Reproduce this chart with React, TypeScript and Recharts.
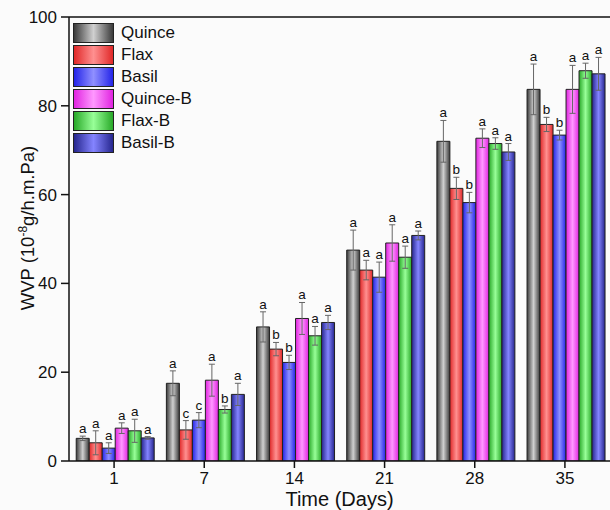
import React from 'react';
import { BarChart, Bar, XAxis, YAxis, ErrorBar, LabelList, Legend, ReferenceLine, Label } from 'recharts';

const days = ['1', '7', '14', '21', '28', '35'];
const yTicks = [0, 20, 40, 60, 80, 100];

const quince = [5.1, 17.5, 30.2, 47.5, 72.0, 83.7];
const quinceErr = [0.5, 2.8, 3.4, 4.5, 4.7, 5.7];
const quinceSig = ['a', 'a', 'a', 'a', 'a', 'a'];

const flax = [4.1, 7.0, 25.2, 43.0, 61.4, 75.8];
const flaxErr = [2.7, 2.1, 1.5, 2.2, 2.5, 1.6];
const flaxSig = ['a', 'c', 'b', 'a', 'b', 'b'];

const basil = [2.9, 9.2, 22.2, 41.4, 58.2, 73.4];
const basilErr = [1.2, 1.7, 1.6, 3.4, 2.3, 1.1];
const basilSig = ['a', 'c', 'b', 'a', 'b', 'b'];

const quinceB = [7.4, 18.2, 32.1, 49.1, 72.7, 83.7];
const quinceBErr = [1.2, 3.6, 3.6, 4.1, 2.1, 5.4];
const quinceBSig = ['a', 'a', 'a', 'a', 'a', 'a'];

const flaxB = [6.8, 11.6, 28.2, 45.9, 71.5, 87.9];
const flaxBErr = [2.6, 0.8, 2.1, 2.5, 1.3, 1.7];
const flaxBSig = ['a', 'b', 'a', 'a', 'a', 'a'];

const basilB = [5.2, 15.0, 31.2, 50.8, 69.6, 87.2];
const basilBErr = [0.3, 2.5, 1.6, 1.0, 1.9, 3.7];
const basilBSig = ['a', 'a', 'a', 'a', 'a', 'a'];

const series = [
  { key: 'Quince', values: quince, errs: quinceErr, sig: quinceSig, edge: '#3a3a3a', mid: '#d0d0d0' },
  { key: 'Flax', values: flax, errs: flaxErr, sig: flaxSig, edge: '#e02828', mid: '#ff9090' },
  { key: 'Basil', values: basil, errs: basilErr, sig: basilSig, edge: '#2424e8', mid: '#9090ff' },
  { key: 'Quince-B', values: quinceB, errs: quinceBErr, sig: quinceBSig, edge: '#e024e0', mid: '#ff98ff' },
  { key: 'Flax-B', values: flaxB, errs: flaxBErr, sig: flaxBSig, edge: '#28a828', mid: '#98ff98' },
  { key: 'Basil-B', values: basilB, errs: basilBErr, sig: basilBSig, edge: '#26268e', mid: '#8484ff' },
];

const data = days.map((d, i) => {
  const row: any = { day: d };
  series.forEach((s) => {
    row[s.key] = s.values[i];
    row[s.key + '_err'] = s.errs[i];
    row[s.key + '_sig'] = s.sig[i];
  });
  return row;
});

const FONT = '"Liberation Sans", Arial, sans-serif';

const gid = (k: string) => 'grad_' + k.replace(/[^a-zA-Z]/g, '');

const makeSigLabel = (s: any) => (p: any) => {
  const idx = p.index;
  const v = s.values[idx];
  const x = p.x ?? p.viewBox?.x;
  const y = p.y ?? p.viewBox?.y;
  const w = p.width ?? p.viewBox?.width;
  const h = p.height ?? p.viewBox?.height;
  if (x == null || y == null || !v) return null;
  const k = h / v;
  const top = y - s.errs[idx] * k;
  return (
    <text x={x + w / 2} y={top - 3} textAnchor="middle" fontSize={13.5} fontFamily={FONT} fill="#111">
      {s.sig[idx]}
    </text>
  );
};

const renderLegend = () => (
  <div style={{ fontFamily: FONT, fontSize: 17, color: '#111' }}>
    {series.map((s) => (
      <div key={s.key} style={{ display: 'flex', alignItems: 'center', height: 22 }}>
        <div
          style={{
            width: 39,
            height: 18,
            border: '1px solid #222',
            background: `linear-gradient(to right, ${s.edge}, ${s.mid}, ${s.edge})`,
            marginRight: 7,
          }}
        />
        <span>{s.key}</span>
      </div>
    ))}
  </div>
);

const yLabel = () => {
  const cx = 34;
  const cy = 228;
  return (
    <text
      x={cx}
      y={cy}
      transform={`rotate(-90, ${cx}, ${cy})`}
      textAnchor="middle"
      fontSize={18.5}
      fontFamily={FONT}
      fill="#111"
    >
      WVP (10<tspan dy={-7} fontSize={12}>-8</tspan>
      <tspan dy={7}>g/h.m.Pa)</tspan>
    </text>
  );
};

const xLabel = (props: any) => {
  const vb = props.viewBox || {};
  const cx = (vb.x ?? 69) + (vb.width ?? 541) / 2;
  return (
    <text x={cx} y={506} textAnchor="middle" fontSize={20} fontFamily={FONT} fill="#111">
      Time (Days)
    </text>
  );
};

export default function App() {
  return (
    <div style={{ position: 'absolute', left: 0, top: 0, width: 610, height: 510, background: '#fbfbfb' }}>
      <BarChart
        width={610}
        height={510}
        data={data}
        margin={{ top: 17, right: 0, bottom: 19, left: 0 }}
        barCategoryGap="8%"
        barGap={0}
      >
        <defs>
          {series.map((s) => (
            <linearGradient key={s.key} id={gid(s.key)} x1="0" y1="0" x2="1" y2="0">
              <stop offset="0%" stopColor={s.edge} />
              <stop offset="50%" stopColor={s.mid} />
              <stop offset="100%" stopColor={s.edge} />
            </linearGradient>
          ))}
        </defs>
        <XAxis
          dataKey="day"
          height={30}
          tickSize={7}
          tickLine={{ stroke: '#111', strokeWidth: 1.5 }}
          axisLine={{ stroke: '#111', strokeWidth: 1.5 }}
          tick={{ fontSize: 17, fontFamily: FONT, fill: '#111' }}
          tickMargin={4}
        >
          <Label content={xLabel} />
        </XAxis>
        <YAxis
          width={69}
          domain={[0, 100]}
          ticks={yTicks}
          interval={0}
          tickSize={8}
          tickLine={{ stroke: '#111', strokeWidth: 1.5 }}
          axisLine={{ stroke: '#111', strokeWidth: 1.5 }}
          tick={{ fontSize: 17, fontFamily: FONT, fill: '#111' }}
          tickMargin={4}
          allowDataOverflow
        >
          <Label content={yLabel} />
        </YAxis>
        <ReferenceLine y={100} stroke="#111" strokeWidth={1.5} />
        <Legend
          content={renderLegend}
          layout="vertical"
          align="center"
          verticalAlign="middle"
          wrapperStyle={{ position: 'absolute', left: 73, top: 22, width: 'auto', height: 'auto' }}
        />
        {series.map((s) => (
          <Bar
            key={s.key}
            dataKey={s.key}
            fill={`url(#${gid(s.key)})`}
            stroke="#222"
            strokeWidth={1}
            isAnimationActive={false}
          >
            <ErrorBar dataKey={s.key + '_err'} width={3} stroke="#666" strokeWidth={1} direction="y" />
            <LabelList dataKey={s.key + '_sig'} content={makeSigLabel(s)} />
          </Bar>
        ))}
      </BarChart>
    </div>
  );
}
